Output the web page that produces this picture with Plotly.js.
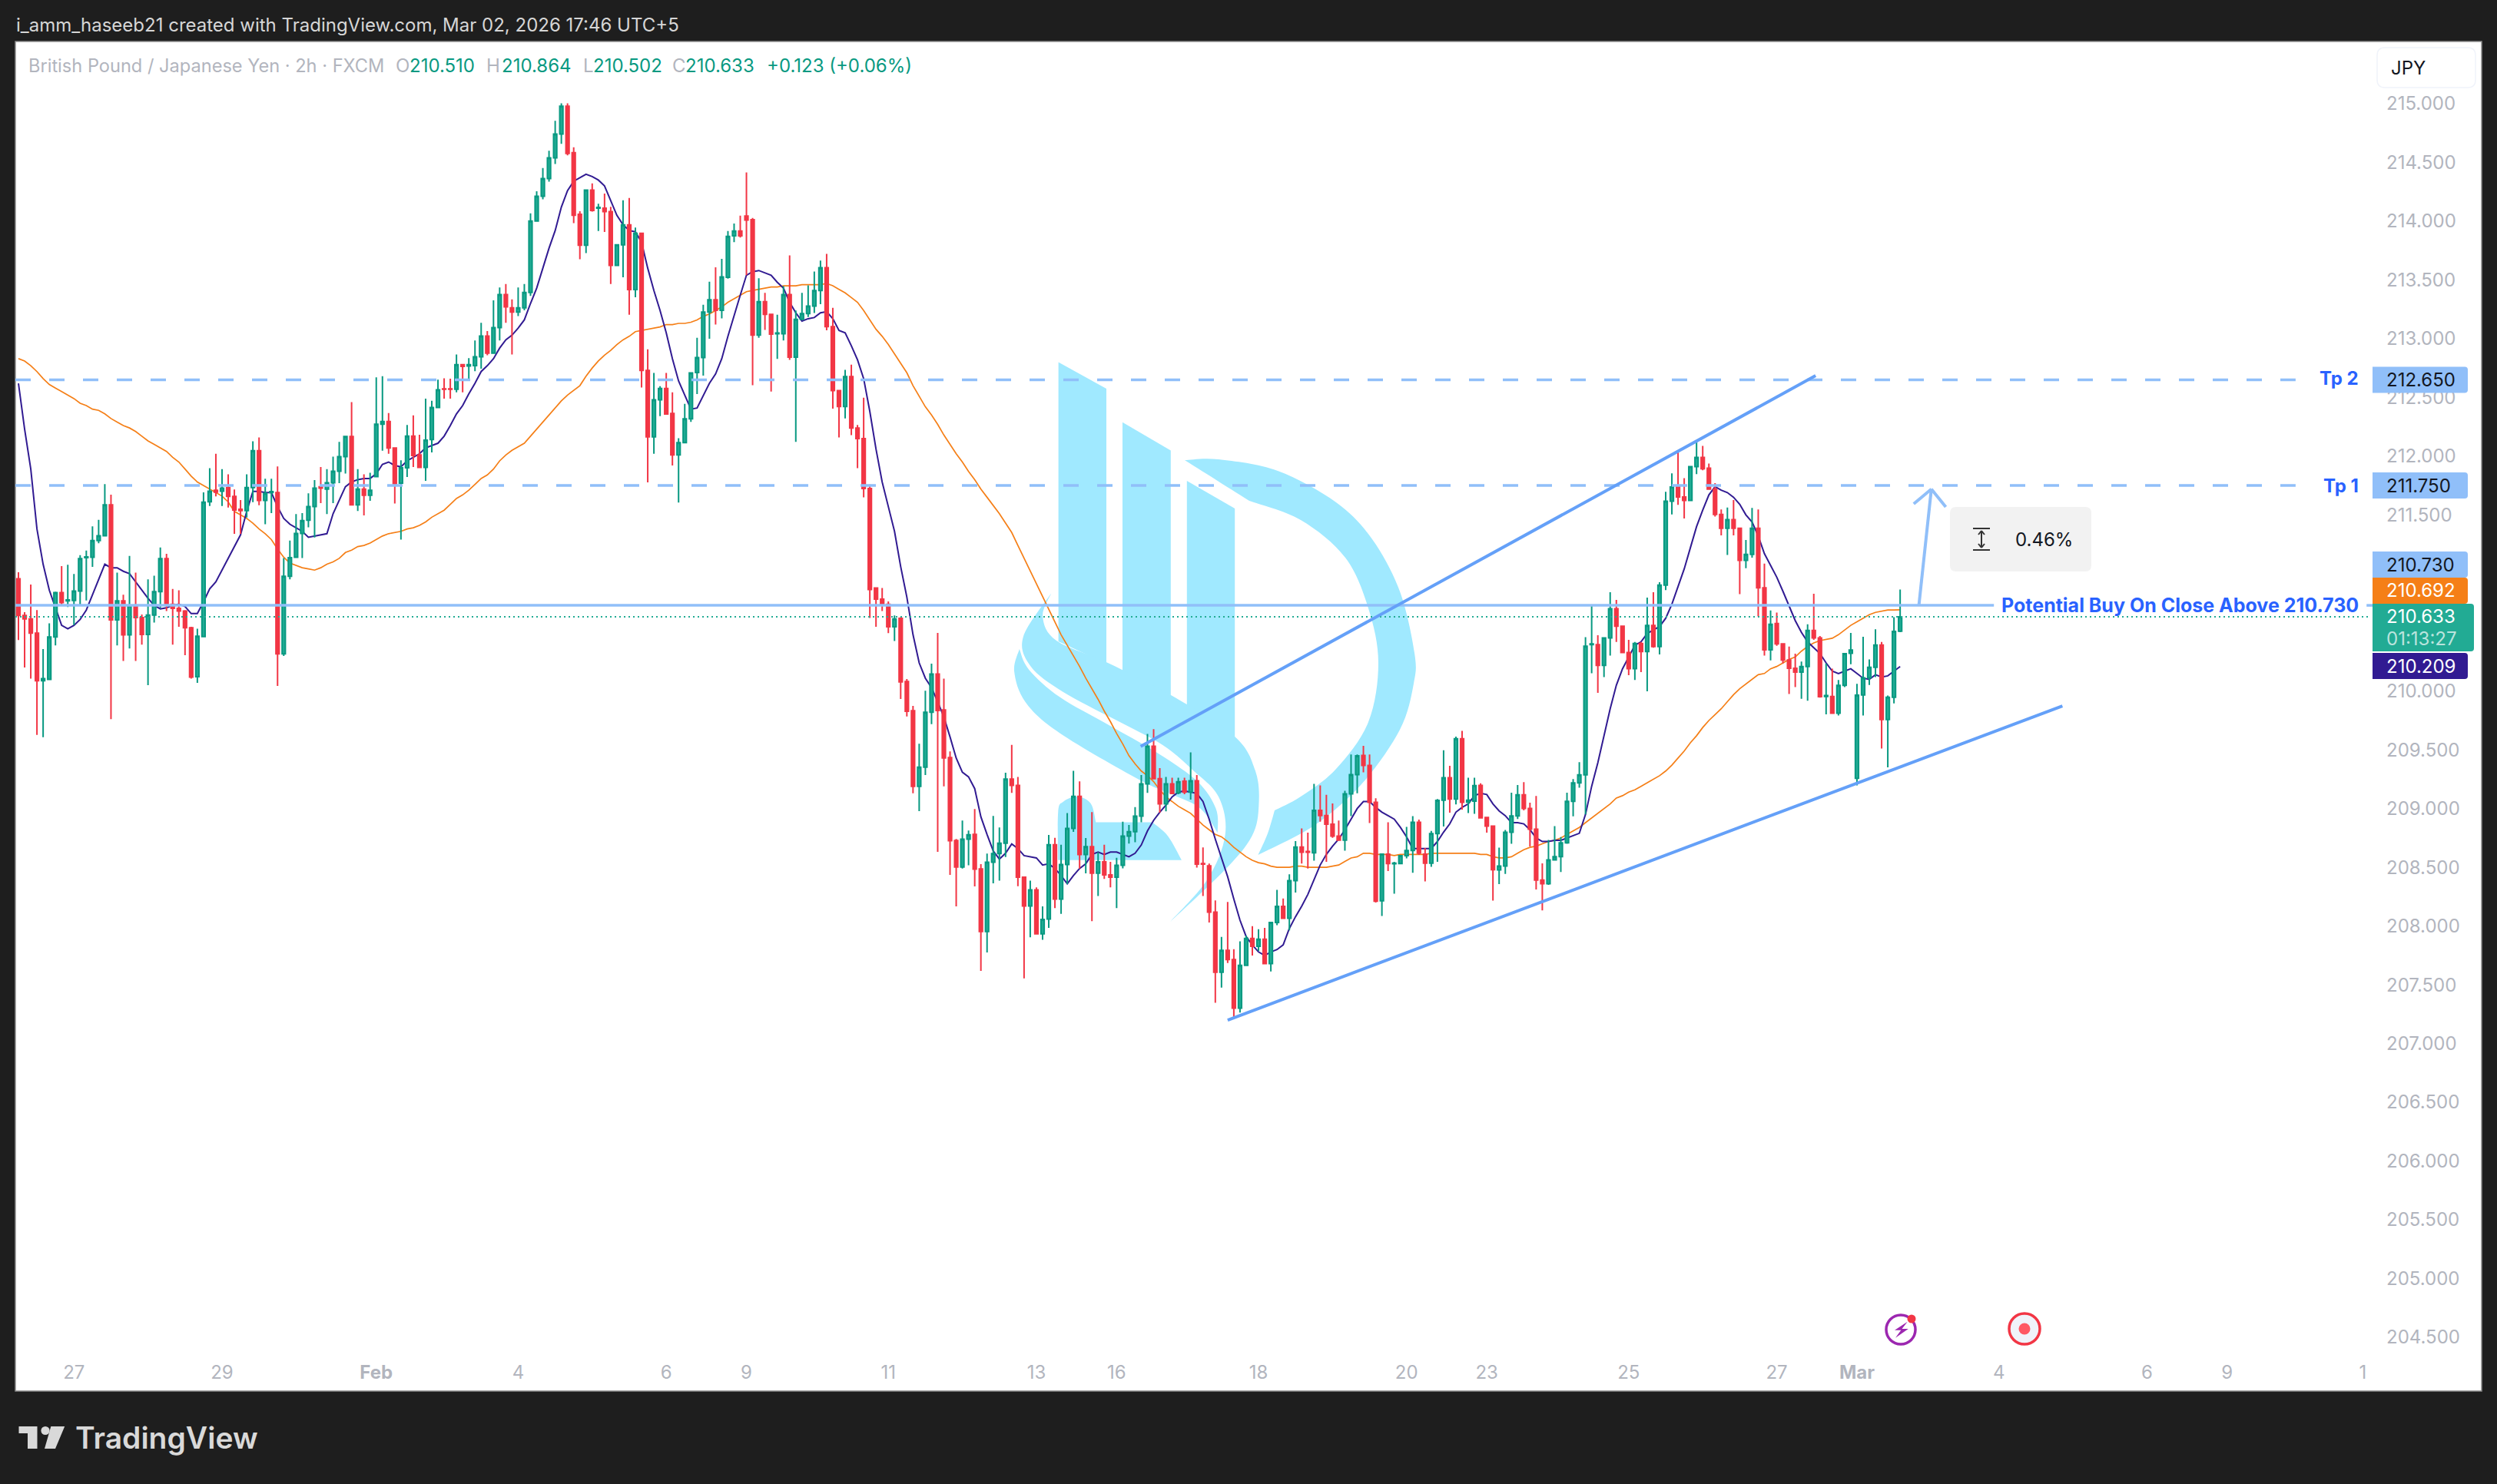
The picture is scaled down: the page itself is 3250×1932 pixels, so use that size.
<!DOCTYPE html>
<html><head><meta charset="utf-8"><title>GBPJPY 2h</title>
<script src="https://cdn.plot.ly/plotly-3.0.1.min.js"></script>
<style>html,body{margin:0;padding:0;background:#1e1e1e}#chart{width:3250px;height:1932px}</style>
</head><body><div id="chart"></div>
<script>
const opens=[210.956,210.644,210.614,210.494,210.088,210.10,210.461,210.839,210.768,210.772,
210.851,211.136,211.139,211.282,211.323,211.586,210.607,210.768,210.479,210.727,
210.626,210.483,210.648,210.847,211.128,210.738,210.704,210.682,210.539,210.123,
210.464,211.612,211.709,211.702,211.732,211.657,211.548,211.537,211.732,212.047,
211.623,211.69,211.69,210.317,210.977,211.139,211.342,211.454,211.571,211.739,
211.72,211.773,211.871,211.995,212.167,211.586,211.72,211.668,211.826,212.272,
212.295,212.07,211.77,211.901,212.171,212.01,211.905,212.141,212.415,212.573,
212.573,212.569,212.779,212.768,212.771,212.846,213.023,212.876,213.094,213.376,
213.263,213.226,213.263,213.394,214.002,214.212,214.362,214.539,214.741,214.978,
214.584,214.058,213.796,214.265,214.111,214.111,214.081,213.623,213.799,213.968,
213.417,213.897,212.73,212.164,212.479,212.576,212.363,212.01,212.115,212.317,
212.711,212.839,213.226,213.331,213.241,213.522,213.875,213.916,214.043,214.013,
213.03,213.315,213.207,213.042,213.042,213.376,212.843,213.165,213.214,213.278,
213.409,213.604,213.102,212.558,212.423,212.678,212.239,212.149,211.725,210.877,
210.783,210.738,210.547,210.62,210.081,209.833,209.19,209.353,209.82,210.146,
209.839,209.434,208.728,208.503,208.739,208.78,208.486,207.954,208.543,208.617,
208.706,209.251,209.198,208.416,208.171,208.308,207.934,208.06,208.693,208.229,
208.524,208.831,209.105,208.609,208.676,208.451,208.547,208.436,208.416,208.518,
208.766,208.804,208.936,209.21,209.531,209.254,209.041,209.21,209.134,209.233,
209.14,209.236,208.533,208.512,208.118,207.607,207.794,207.715,207.301,207.666,
207.894,207.827,207.888,207.68,208.031,208.168,208.066,208.387,208.673,208.635,
208.623,208.985,208.941,208.868,208.766,208.731,209.125,209.289,209.452,209.368,
209.053,208.215,208.612,208.53,208.533,208.6,208.644,208.883,208.612,208.536,
208.787,209.072,209.263,209.081,209.595,209.056,209.064,209.198,208.924,208.851,
208.478,208.511,208.798,208.938,209.118,209.001,208.824,208.391,208.361,208.564,
208.591,208.708,209.061,209.218,209.288,210.395,210.395,210.219,210.452,210.702,
210.552,210.329,210.192,210.406,210.336,210.559,210.379,210.903,211.616,211.737,
211.653,211.623,211.91,211.99,211.897,211.72,211.503,211.386,211.46,211.386,
211.113,211.163,211.386,210.879,210.352,210.576,210.402,210.265,210.195,210.162,
210.209,210.516,210.452,209.955,209.955,209.812,210.049,210.322,209.258,209.968,
210.112,210.202,210.392,209.758,209.948,210.510];
const highs=[211.012,210.671,210.907,210.689,210.358,210.577,210.847,211.064,211.076,210.997,
211.158,211.196,211.402,211.458,211.762,211.672,211.008,210.821,211.151,211.008,
210.652,210.952,210.982,211.222,211.169,210.869,210.858,210.689,210.547,210.532,
211.691,211.897,212.02,211.889,211.845,211.717,211.627,211.845,212.126,212.16,
211.807,211.807,211.912,211.132,211.282,211.507,211.515,211.683,211.796,211.908,
211.889,211.995,212.122,212.171,212.46,211.889,211.845,211.859,212.67,212.681,
212.366,212.07,211.965,212.265,212.347,212.182,212.49,212.471,212.651,212.662,
212.659,212.865,212.779,212.835,212.985,213.135,213.064,213.327,213.436,213.466,
213.334,213.436,213.466,214.066,214.254,214.452,214.599,214.854,215.004,215.004,
214.629,214.085,214.265,214.321,214.148,214.235,214.122,213.799,214.178,214.197,
213.946,213.897,212.91,212.708,212.595,212.708,212.543,212.152,212.445,212.715,
213.008,213.289,213.484,213.608,213.679,213.916,213.98,214.047,214.415,214.028,
213.514,213.39,213.207,213.203,213.447,213.709,213.24,213.39,213.454,213.571,
213.664,213.721,213.263,212.565,212.734,212.779,212.265,212.498,211.758,210.877,
210.877,210.764,210.644,210.63,210.103,209.874,209.552,210.003,210.234,210.495,
210.107,209.486,208.741,208.898,208.813,208.996,208.527,208.617,208.937,208.839,
209.305,209.543,209.269,208.416,208.387,208.329,208.168,208.775,208.752,208.693,
208.962,209.321,209.231,208.749,208.971,208.629,208.693,208.547,208.582,208.889,
208.86,209.012,209.286,209.636,209.677,209.344,209.269,209.263,209.263,209.263,
209.479,209.286,208.67,208.533,208.218,207.908,208.206,207.803,207.87,207.92,
208.0,207.973,207.984,208.037,208.308,208.235,208.44,208.723,208.831,208.796,
209.21,209.198,209.117,209.044,208.898,209.152,209.461,209.461,209.534,209.461,
209.088,208.618,208.883,208.547,208.606,208.845,208.936,208.906,208.664,208.81,
209.081,209.496,209.364,209.613,209.662,209.263,209.263,209.216,208.927,208.854,
208.668,208.818,209.135,209.201,209.225,209.051,209.108,208.534,208.734,208.851,
208.758,209.135,209.251,209.395,210.459,210.732,210.475,210.459,210.842,210.776,
210.559,210.436,210.419,210.419,210.796,210.842,210.926,211.696,211.853,212.037,
211.813,211.913,212.127,212.087,211.937,211.77,211.546,211.563,211.626,211.386,
211.286,211.56,211.546,211.086,210.686,210.669,210.402,210.379,210.319,210.252,
210.569,210.829,210.469,210.235,210.192,210.095,210.319,210.496,210.062,210.462,
210.269,210.526,210.419,209.962,210.629,210.864];
const lows=[210.434,210.201,210.107,209.627,209.608,210.10,210.389,210.727,210.716,210.562,
210.727,210.772,211.057,211.259,211.323,209.762,210.389,210.257,210.363,210.257,
210.396,210.051,210.584,210.708,210.682,210.396,210.547,210.306,210.107,210.07,
210.464,211.575,211.657,211.575,211.563,211.338,211.338,211.477,211.608,211.582,
211.42,211.515,210.044,210.299,210.952,211.139,211.132,211.394,211.308,211.601,
211.507,211.601,211.77,211.852,211.586,211.533,211.496,211.62,211.826,212.047,
212.02,211.597,211.289,211.822,211.908,211.901,211.789,212.032,212.415,212.49,
212.49,212.543,212.543,212.648,212.723,212.745,212.858,212.876,212.985,213.135,
212.865,213.192,213.241,213.364,214.002,214.186,214.336,214.486,214.659,214.561,
213.983,213.676,213.728,214.081,213.916,213.908,213.466,213.623,213.522,213.203,
213.353,212.584,211.777,212.02,212.34,212.359,211.92,211.605,212.115,212.291,
212.528,212.685,213.0,213.12,213.173,213.511,213.822,213.86,213.541,212.603,
213.008,213.075,212.55,212.828,212.985,212.82,212.122,213.158,213.184,213.218,
213.293,213.072,212.404,212.16,212.321,212.179,211.897,211.65,210.622,210.547,
210.682,210.494,210.427,209.933,209.785,209.131,208.979,209.286,209.719,208.632,
209.19,208.436,208.168,208.49,208.517,208.338,207.619,207.776,208.364,208.386,
208.588,209.134,208.34,207.555,207.905,207.934,207.884,207.984,208.153,208.104,
208.358,208.802,208.489,208.449,208.042,208.256,208.401,208.329,208.153,208.492,
208.702,208.714,208.883,209.134,209.254,208.965,208.977,209.128,209.122,209.122,
209.076,208.498,208.256,208.031,207.347,207.476,207.686,207.225,207.263,207.666,
207.75,207.789,207.68,207.613,208.008,208.06,207.964,208.285,208.533,208.489,
208.556,208.889,208.547,208.752,208.731,208.641,208.936,209.131,209.309,208.877,
208.2,208.086,208.468,208.276,208.527,208.577,208.454,208.606,208.381,208.504,
208.547,208.848,208.965,209.035,208.991,208.962,208.956,208.921,208.796,208.217,
208.357,208.444,208.701,208.911,208.985,208.678,208.311,208.134,208.351,208.558,
208.461,208.701,208.934,209.178,208.951,210.152,209.985,210.119,210.302,210.419,
210.329,210.135,210.095,210.162,209.999,210.369,210.312,210.859,211.503,211.586,
211.47,211.62,211.847,211.88,211.713,211.486,211.326,211.159,211.326,210.826,
211.046,211.136,210.636,210.302,210.262,210.385,210.235,209.975,210.035,209.935,
209.918,210.436,209.945,209.802,209.812,209.792,210.035,210.229,209.198,209.792,
210.052,210.119,209.511,209.351,209.895,210.502];
const closes=[210.644,210.614,210.494,210.088,210.107,210.461,210.839,210.753,210.776,210.851,
211.128,211.143,211.282,211.323,211.586,210.607,210.768,210.479,210.727,210.626,
210.483,210.648,210.847,211.128,210.738,210.704,210.682,210.539,210.119,210.468,
211.608,211.702,211.694,211.728,211.657,211.541,211.537,211.732,212.047,211.623,
211.683,211.698,210.317,210.977,211.136,211.342,211.451,211.571,211.728,211.728,
211.773,211.871,211.995,212.167,211.586,211.72,211.668,211.709,212.272,212.295,
212.07,211.766,211.901,212.171,212.006,211.905,212.137,212.415,212.565,212.569,
212.569,212.779,212.764,212.779,212.846,213.023,212.876,213.094,213.376,213.271,
213.226,213.263,213.394,214.002,214.212,214.362,214.539,214.741,214.978,214.576,
214.051,213.796,214.265,214.092,214.118,214.081,213.623,213.799,213.968,213.417,
213.897,212.73,212.164,212.479,212.576,212.359,212.01,212.115,212.317,212.708,
212.839,213.226,213.331,213.241,213.526,213.871,213.916,213.875,214.01,213.03,
213.315,213.207,213.038,213.049,213.376,212.843,213.165,213.214,213.278,213.409,
213.604,213.102,212.558,212.423,212.678,212.239,212.149,211.725,210.865,210.783,
210.738,210.547,210.614,210.079,209.828,209.19,209.353,209.82,210.146,209.835,
209.432,208.726,208.503,208.739,208.778,208.484,207.954,208.543,208.617,208.706,
209.251,209.198,208.416,208.171,208.308,207.934,208.057,208.693,208.229,208.524,
208.831,209.105,208.609,208.676,208.451,208.547,208.436,208.416,208.518,208.766,
208.804,208.936,209.21,209.531,209.254,209.041,209.21,209.128,209.228,209.14,
209.236,208.527,208.527,208.118,207.607,207.794,207.715,207.301,207.666,207.894,
207.827,207.888,207.68,208.031,208.168,208.066,208.387,208.673,208.629,208.629,
208.985,208.941,208.868,208.766,208.731,209.125,209.289,209.449,209.368,209.053,
208.212,208.612,208.533,208.536,208.6,208.644,208.883,208.62,208.536,208.787,
209.07,209.263,209.081,209.595,209.053,209.072,209.195,208.921,208.851,208.48,
208.511,208.798,208.938,209.118,209.001,208.824,208.391,208.361,208.564,208.591,
208.708,209.061,209.218,209.288,210.382,210.402,210.219,210.452,210.702,210.552,
210.329,210.192,210.406,210.336,210.559,210.379,210.903,211.616,211.737,211.653,
211.623,211.91,211.99,211.893,211.72,211.503,211.386,211.46,211.386,211.113,
211.163,211.386,210.879,210.352,210.569,210.402,210.265,210.195,210.162,210.209,
210.516,210.452,209.952,209.962,209.812,210.049,210.319,210.349,209.965,210.112,
210.202,210.392,209.758,209.948,210.509,210.633];
const fastMA=[212.62,212.23,211.89,211.38,211.08,210.86,210.71,210.56,210.53,210.56,
210.61,210.69,210.82,210.95,211.08,211.05,211.05,211.02,211.0,210.93,
210.86,210.79,210.73,210.70,210.71,210.73,210.74,210.72,210.66,210.66,
210.76,210.87,210.93,211.03,211.13,211.22,211.33,211.53,211.70,211.70,
211.69,211.69,211.57,211.47,211.42,211.39,211.36,211.31,211.32,211.33,
211.34,211.51,211.63,211.74,211.78,211.80,211.81,211.81,211.85,211.93,
211.95,211.92,211.91,211.96,211.99,212.02,212.07,212.09,212.11,212.17,
212.26,212.36,212.43,212.53,212.62,212.72,212.77,212.83,212.92,212.99,
213.03,213.09,213.16,213.30,213.43,213.60,213.77,213.92,214.12,214.26,
214.34,214.37,214.40,214.38,214.35,214.30,214.18,214.05,213.97,213.92,
213.91,213.82,213.60,213.41,213.24,213.05,212.83,212.64,212.52,212.40,
212.41,212.52,212.62,212.70,212.83,213.02,213.20,213.37,213.54,213.57,
213.58,213.56,213.54,213.48,213.43,213.31,213.22,213.15,213.17,213.18,
213.22,213.23,213.17,213.07,213.05,212.94,212.82,212.66,212.38,212.06,
211.78,211.57,211.36,211.06,210.80,210.48,210.24,210.11,210.03,209.91,
209.78,209.61,209.43,209.31,209.27,209.17,208.93,208.78,208.64,208.57,
208.62,208.70,208.66,208.60,208.59,208.58,208.52,208.53,208.49,208.43,
208.36,208.43,208.49,208.53,208.61,208.63,208.61,208.63,208.63,208.61,
208.59,208.62,208.69,208.81,208.90,208.97,209.03,209.10,209.14,209.15,
209.14,209.13,209.06,208.91,208.74,208.58,208.42,208.23,208.05,207.91,
207.84,207.78,207.75,207.78,207.80,207.84,207.98,208.08,208.17,208.27,
208.39,208.52,208.61,208.68,208.74,208.82,208.91,209.0,209.06,209.06,
209.01,208.97,208.94,208.91,208.84,208.76,208.66,208.66,208.66,208.66,
208.72,208.80,208.87,208.97,209.01,209.04,209.11,209.13,209.12,209.04,
208.98,208.94,208.88,208.88,208.87,208.82,208.75,208.72,208.72,208.73,
208.73,208.75,208.77,208.79,208.95,209.19,209.39,209.62,209.85,210.05,
210.19,210.29,210.39,210.42,210.49,210.52,210.55,210.62,210.74,210.89,
211.04,211.22,211.40,211.54,211.67,211.74,211.71,211.69,211.65,211.59,
211.50,211.44,211.32,211.17,211.07,210.97,210.85,210.72,210.60,210.50,
210.42,210.37,210.32,210.24,210.17,210.15,210.17,210.19,210.15,210.11,
210.10,210.14,210.12,210.13,210.17,210.209];
const slowMA=[212.83,212.81,212.77,212.72,212.66,212.61,212.58,212.55,212.52,212.49,
212.45,212.43,212.40,212.39,212.36,212.32,212.29,212.26,212.24,212.21,
212.17,212.13,212.10,212.07,212.04,211.99,211.95,211.89,211.83,211.78,
211.75,211.72,211.69,211.66,211.61,211.53,211.50,211.47,211.43,211.38,
211.34,211.29,211.21,211.14,211.09,211.07,211.05,211.04,211.03,211.05,
211.08,211.10,211.13,211.18,211.20,211.23,211.24,211.26,211.29,211.32,
211.34,211.35,211.36,211.38,211.39,211.41,211.44,211.48,211.51,211.54,
211.59,211.64,211.67,211.71,211.76,211.81,211.84,211.89,211.96,212.01,
212.05,212.08,212.11,212.17,212.23,212.29,212.35,212.41,212.47,212.52,
212.56,212.60,212.68,212.75,212.81,212.86,212.90,212.95,212.99,213.02,
213.06,213.07,213.08,213.09,213.10,213.12,213.12,213.13,213.13,213.14,
213.16,213.19,213.21,213.24,213.27,213.31,213.34,213.37,213.40,213.41,
213.42,213.43,213.44,213.44,213.45,213.45,213.45,213.46,213.46,213.46,
213.46,213.47,213.45,213.42,213.39,213.35,213.31,213.24,213.16,213.08,
213.02,212.95,212.87,212.79,212.71,212.60,212.51,212.42,212.35,212.27,
212.18,212.10,212.02,211.95,211.87,211.80,211.72,211.65,211.58,211.51,
211.43,211.35,211.24,211.13,211.02,210.91,210.80,210.69,210.58,210.48,
210.39,210.30,210.21,210.11,210.02,209.93,209.83,209.74,209.64,209.55,
209.45,209.38,209.32,209.28,209.23,209.16,209.10,209.06,209.02,208.99,
208.96,208.91,208.86,208.82,208.78,208.76,208.72,208.67,208.63,208.59,
208.56,208.54,208.53,208.51,208.50,208.50,208.50,208.51,208.51,208.50,
208.50,208.50,208.50,208.51,208.52,208.55,208.58,208.59,208.62,208.62,
208.61,208.61,208.61,208.60,208.61,208.61,208.61,208.61,208.61,208.62,
208.62,208.62,208.62,208.62,208.62,208.62,208.62,208.61,208.61,208.59,
208.58,208.58,208.59,208.62,208.65,208.67,208.68,208.70,208.72,208.73,
208.75,208.78,208.81,208.84,208.88,208.92,208.96,209.00,209.04,209.09,
209.11,209.14,209.16,209.19,209.22,209.25,209.28,209.32,209.37,209.43,
209.49,209.56,209.62,209.69,209.75,209.80,209.85,209.91,209.97,210.02,
210.06,210.10,210.14,210.15,210.19,210.21,210.24,210.27,210.29,210.34,
210.38,210.41,210.43,210.44,210.45,210.48,210.52,210.56,210.59,210.62,
210.65,210.67,210.68,210.69,210.69,210.692];
const bars=opens.map((_,i)=>i);
const priceTicks=[215,214.5,214,213.5,213,212.5,212,211.5,210,209.5,209,208.5,208,207.5,207,206.5,206,205.5,205,204.5];
const timeTickPos=[9,33,58,81,105,118,141,165,178,201,225,238,261,285,298,321,345,358,380];
const timeTickText=['27','29','<b>Feb</b>','4','6','9','11','13','16','18','20','23','25','27','<b>Mar</b>','4','6','9','1'];
const priceBoxes=[
 {y:212.65,t:'212.650',bg:'#90bff9',fg:'#131722'},
 {y:211.75,t:'211.750',bg:'#90bff9',fg:'#131722'},
 {y:211.077,t:'210.730',bg:'#90bff9',fg:'#131722'},
 {y:210.855,t:'210.692',bg:'#f57f17',fg:'#ffffff'},
 {y:210.214,t:'210.209',bg:'#311b92',fg:'#ffffff'}];
const legendParts=[['British Pound / Japanese Yen · 2h · FXCM',36,'#b2b5be',23.6],['O',514,'#b2b5be',24],['210.510',532,'#089981',24],['H',632,'#b2b5be',24],['210.864',652,'#089981',24],['L',758,'#b2b5be',24],['210.502',771,'#089981',24],['C',874,'#b2b5be',24],['210.633',891,'#089981',24],['+0.123 (+0.06%)',997,'#089981',24]];

const L=20,R=3088,T=54,B=1770;
const yMax=215+(135-T)/152.95, yMin=215-(B-135)/152.95;
const xMin=(L-24)/8.03, xMax=(R-24)/8.03;
const px=X=>(X-L)/(R-L), py=Y=>(B-Y)/(B-T);
const FONT='Inter, "Noto Sans", sans-serif';

function ann(X,Y,text,o={}){return Object.assign({xref:'paper',yref:'paper',x:px(X),y:py(Y),text,showarrow:false,xanchor:'left',yanchor:'middle',borderpad:0,
  font:{family:FONT,size:o.size||24,color:o.color||'#131722',weight:o.weight||400}},o.extra||{});}
function rect(X0,Y0,X1,Y1,fill,line,lw,layer){return {type:'rect',xref:'paper',yref:'paper',x0:px(X0),x1:px(X1),y0:py(Y1),y1:py(Y0),fillcolor:fill,line:{color:line||'rgba(0,0,0,0)',width:lw||0},layer:layer||'above'};}
function circ(cx,cy,r,fill,line,lw){return {type:'circle',xref:'paper',yref:'paper',x0:px(cx-r),x1:px(cx+r),y0:py(cy+r),y1:py(cy-r),fillcolor:fill,line:{color:line||'rgba(0,0,0,0)',width:lw||0},layer:'above'};}
function pLine(X0,Y0,X1,Y1,c,w){return {type:'line',xref:'paper',yref:'paper',x0:px(X0),x1:px(X1),y0:py(Y0),y1:py(Y1),line:{color:c,width:w},layer:'above'};}
function poly(pts,fill,layer){return {type:'path',xref:'paper',yref:'paper',path:'M'+pts.map(p=>px(p[0])+','+py(p[1])).join(' L')+' Z',fillcolor:fill,line:{width:0},layer:layer||'below'};}
function curve(pts){let s='';for(let i=0;i<pts.length-1;i++){const a=pts[Math.max(i-1,0)],b=pts[i],c=pts[i+1],d=pts[Math.min(i+2,pts.length-1)];
  const c1=[b[0]+(c[0]-a[0])/6,b[1]+(c[1]-a[1])/6],c2=[c[0]-(d[0]-b[0])/6,c[1]-(d[1]-b[1])/6];
  s+=' C'+px(c1[0])+','+py(c1[1])+' '+px(c2[0])+','+py(c2[1])+' '+px(c[0])+','+py(c[1]);}return s;}
function blob(segs,fill){const st=segs[0][0];return {type:'path',xref:'paper',yref:'paper',path:'M'+px(st[0])+','+py(st[1])+segs.map(curve).join('')+' Z',fillcolor:fill,line:{width:0},layer:'below'};}
const z3=a=>a.map(p=>[1250+p[0]/2.24,700+p[1]/2.24]);
const WM='#a0e9ff';
const watermark=[
 poly([[1377.6,471.6],[1440,506],[1440,864],[1377.6,835]],WM),
 poly([[1461,549.7],[1523.8,586.4],[1523.8,905.3],[1461,875]],WM),
 poly([[1544.8,626],[1607.2,662],[1607.2,959.4],[1544.8,918.6]],WM),
 blob([[[1542,599],[1586,598],[1663,613],[1739,654],[1786,702],[1822,770],[1841,850],[1840,890],[1822,950],[1772,1021],[1710,1075],[1637.5,1113]],
       [[1637.5,1113],[1650,1085],[1659,1055]],
       [[1659,1055],[1693,1037],[1739,1001],[1781,940],[1794,863],[1781,792],[1751,726],[1693,677],[1626,652]],
       [[1626,652],[1542,599]]],WM),
 blob([z3([[265,162],[240,230],[280,300],[430,365],[615,460],[800,580],[860,680],[870,780],[850,870],[770,970],[612,1120]]),
       z3([[612,1120],[720,997],[772,867],[753,756],[680,680],[590,605],[450,530],[300,450],[205,375],[183,290],[265,162]])],WM),
 blob([z3([[172,325],[200,385],[290,465],[430,545],[570,625],[690,710],[745,790],[750,860]]),
       z3([[750,860],[700,790],[620,750],[520,705],[290,570],[190,480],[157,390],[172,325]])],WM),
 blob([z3([[285,940],[285,800],[300,770],[340,755],[380,775],[395,830]]),
       z3([[395,830],[560,830]]),z3([[560,830],[605,870],[645,940]]),z3([[645,940],[285,940]])],WM)
];

const blueDash='#90bff9', trend='#64a0f8';
const dashLines=[212.65,211.75];
const shapes=[
 rect(20,54,3230,1811,'#ffffff','#8c8c8c',1.5,'below'),
 ...watermark,
 ...dashLines.map(p=>({type:'line',xref:'x',yref:'y',x0:xMin,x1:369.1,y0:p,y1:p,line:{color:blueDash,width:3.5,dash:'20px,24px'},layer:'above'})),
 {type:'line',xref:'x',yref:'y',x0:xMin,x1:320.2,y0:210.73,y1:210.73,line:{color:blueDash,width:3.5},layer:'above'},
 {type:'line',xref:'x',yref:'y',x0:380.6,x1:xMax,y0:210.73,y1:210.73,line:{color:blueDash,width:3.5},layer:'above'},
 {type:'line',xref:'x',yref:'y',x0:xMin,x1:380.9,y0:210.633,y1:210.633,line:{color:'#22ab94',width:2,dash:'2px,4px'},layer:'above'},
 {type:'line',xref:'x',yref:'y',x0:181.9,x1:291.3,y0:209.53,y1:212.685,line:{color:trend,width:4},layer:'above'},
 {type:'line',xref:'x',yref:'y',x0:196.0,x1:331.3,y0:207.2,y1:209.874,line:{color:trend,width:4},layer:'above'},
 {type:'line',xref:'x',yref:'y',x0:308.04,x1:310.06,y0:210.73,y1:211.72,line:{color:blueDash,width:4},layer:'above'},
 {type:'line',xref:'x',yref:'y',x0:307.2,x1:310.06,y0:211.594,y1:211.72,line:{color:blueDash,width:4},layer:'above'},
 {type:'line',xref:'x',yref:'y',x0:312.4,x1:310.06,y0:211.567,y1:211.72,line:{color:blueDash,width:4},layer:'above'},
 ...priceBoxes.map(b=>({type:'path',xref:'paper',yref:'y',xsizemode:'pixel',ysizemode:'pixel',xanchor:1,yanchor:b.y,
   path:'M0,-17 H120 Q124,-17 124,-13 V13 Q124,17 120,17 H0 Z',fillcolor:b.bg,line:{width:0},layer:'above'})),
 {type:'path',xref:'paper',yref:'paper',xsizemode:'pixel',ysizemode:'pixel',xanchor:1,yanchor:py(817),
   path:'M0,-31 H128 Q132,-31 132,-27 V27 Q132,31 128,31 H0 Z',fillcolor:'#22ab94',line:{width:0},layer:'above'},
 {type:'path',xref:'paper',yref:'paper',xsizemode:'pixel',ysizemode:'pixel',xanchor:px(2538),yanchor:py(702),
   path:'M8,-42 H176 Q184,-42 184,-34 V34 Q184,42 176,42 H8 Q0,42 0,34 V-34 Q0,-42 8,-42 Z',fillcolor:'#f2f2f2',line:{width:0},layer:'above'},
 pLine(2568,688,2590,688,'#333333',2),pLine(2568,716,2590,716,'#333333',2),pLine(2579,691,2579,713,'#333333',2),
 pLine(2575,696,2579,691,'#333333',2),pLine(2583,696,2579,691,'#333333',2),pLine(2575,708,2579,713,'#333333',2),pLine(2583,708,2579,713,'#333333',2),
 {type:'path',xref:'paper',yref:'paper',xsizemode:'pixel',ysizemode:'pixel',xanchor:px(3094),yanchor:py(88),
   path:'M10,-26 H118 Q128,-26 128,-16 V16 Q128,26 118,26 H10 Q0,26 0,16 V-16 Q0,-26 10,-26 Z',fillcolor:'#ffffff',line:{color:'#f0f3fa',width:1.5},layer:'above'},
 circ(2474,1731,19,'rgba(0,0,0,0)','#9c27b0',3.5),
 poly([[2482.7,1720.7],[2466,1731.7],[2474.3,1731.7],[2467,1741.7],[2483.8,1730],[2475.5,1730]],'#9c27b0','above'),
 circ(2488,1717,5.5,'#f23645'),
 circ(2635,1730,20,'#f0f3fa','#f23645',3.5),
 circ(2635,1730,7.5,'#ff5964'),
 poly([[24.5,1857],[48.5,1857],[48.5,1886],[36,1886],[36,1866],[24.5,1866]],'#d9d9d9','above'),
 circ(59,1862.5,5.6,'#d9d9d9'),
 poly([[66.3,1857],[84.2,1857],[72,1886],[58,1886]],'#d9d9d9','above')
];

const annotations=[
 ann(20,32,'i_amm_haseeb21 created with TradingView.com, Mar 02, 2026 17:46 UTC+5',{color:'#d6d6d6'}),
 ...legendParts.map(p=>ann(p[1],85,p[0],{color:p[2],size:p[3]})),
 ann(3111,88,'JPY',{color:'#131722'}),
 ...priceBoxes.map(b=>ann(3105,735,b.t,{color:b.fg,extra:{yref:'y',y:b.y}})),
 ann(3105,802,'210.633',{color:'#ffffff'}),
 ann(3105,831,'01:13:27',{color:'rgba(255,255,255,0.7)'}),
 ann(2622,702,'0.46%',{color:'#131722'}),
 ann(3071,493,'Tp 2',{color:'#2962ff',weight:700,size:24,extra:{xanchor:'right'}}),
 ann(3071,632.5,'Tp 1',{color:'#2962ff',weight:700,size:24,extra:{xanchor:'right'}}),
 ann(3071,788,'Potential Buy On Close Above 210.730',{color:'#2962ff',weight:700,size:25,extra:{xanchor:'right'}}),
 ann(97,1871,'TradingView',{color:'#d9d9d9',size:39,weight:600})
];

const traces=[
 {type:'scatter',mode:'lines',x:bars,y:slowMA,line:{color:'#f57f17',width:1.7},hoverinfo:'skip',xaxis:'x',yaxis:'y',showlegend:false},
 {type:'scatter',mode:'lines',x:bars,y:fastMA,line:{color:'#311b92',width:2},hoverinfo:'skip',xaxis:'x',yaxis:'y',showlegend:false},
 {type:'candlestick',x:bars,open:opens,high:highs,low:lows,close:closes,xaxis:'x2',yaxis:'y2',showlegend:false,whiskerwidth:0,
  increasing:{line:{color:'#089981',width:2},fillcolor:'#22ab94'},
  decreasing:{line:{color:'#f23645',width:2},fillcolor:'#f23645'}}
];
const layout={
 width:3250,height:1932,paper_bgcolor:'#1e1e1e',plot_bgcolor:'rgba(0,0,0,0)',showlegend:false,boxgap:0.25,
 margin:{l:L,r:3250-R,t:T,b:1932-B,pad:0},
 font:{family:FONT,size:24,color:'#b2b5be'},
 xaxis:{range:[xMin,xMax],showgrid:false,zeroline:false,showline:false,tickmode:'array',tickvals:timeTickPos,ticktext:timeTickText,
   ticks:'',ticklabelstandoff:0,tickfont:{family:FONT,size:24,color:'#b2b5be'},rangeslider:{visible:false},fixedrange:true,tickangle:0},
 yaxis:{range:[yMin,yMax],side:'right',showgrid:false,zeroline:false,showline:false,tickmode:'array',tickvals:priceTicks,tickformat:'.3f',
   ticks:'',ticklabelstandoff:17,tickfont:{family:FONT,size:24,color:'#b2b5be'},fixedrange:true},
 xaxis2:{overlaying:'x',anchor:'y2',range:[xMin,xMax],visible:false,rangeslider:{visible:false},fixedrange:true},
 yaxis2:{overlaying:'y',anchor:'x2',side:'right',range:[yMin,yMax],visible:false,fixedrange:true},
 shapes,annotations
};
Plotly.newPlot('chart',traces,layout,{staticPlot:true,displayModeBar:false,responsive:false});
</script></body></html>
